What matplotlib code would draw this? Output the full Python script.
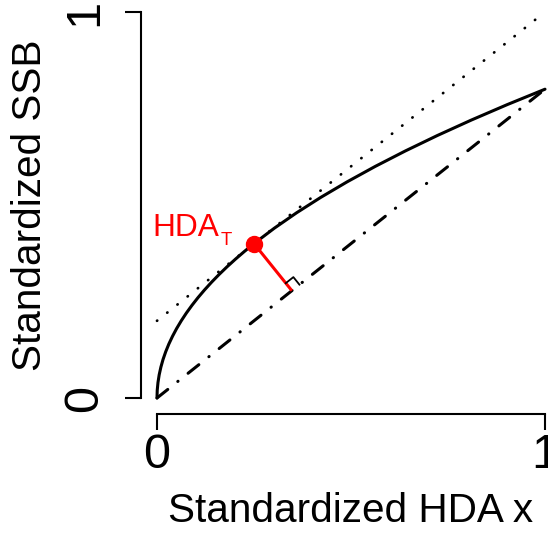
import numpy as np
import matplotlib
matplotlib.use("Agg")
import matplotlib.pyplot as plt

plt.rcParams['font.family'] = ['Liberation Sans', 'DejaVu Sans']

# Curve (standardized HDA x vs standardized SSB)
curve_x = [0.0, 0.0006, 0.0025, 0.0056, 0.01, 0.0156, 0.0225, 0.0306, 0.04, 0.0506,
           0.0625, 0.0756, 0.09, 0.1056, 0.1225, 0.1406, 0.16, 0.1806, 0.2025, 0.2256,
           0.25, 0.3025, 0.36, 0.4225, 0.49, 0.5625, 0.64, 0.7225, 0.81, 0.9025, 1.0]
curve_y = [0.0, 0.02, 0.04, 0.06, 0.08, 0.10, 0.12, 0.14, 0.16, 0.18,
           0.20, 0.22, 0.24, 0.26, 0.28, 0.30, 0.32, 0.34, 0.36, 0.38,
           0.40, 0.44, 0.48, 0.52, 0.56, 0.60, 0.64, 0.68, 0.72, 0.76, 0.80]

# Chord (dash-dot) from origin to curve end
chord_x = [0.0, 1.0]
chord_y = [0.0, 0.8]

# Tangent (dotted) parallel to chord
tangent_x = [0.0, 1.0]
tangent_y = [0.2, 1.0]

# HDA_T point
hda_x = 0.25
hda_y = 0.40

tick_vals = [0, 1]
tick_labels = ['0', '1']

fig = plt.figure(figsize=(5.48, 5.39), dpi=100)
ax = fig.add_axes([157/548, 1-398/539, 388/548, 386/539])
ax.set_xlim(0, 1)
ax.set_ylim(0, 1)

ax.plot(curve_x, curve_y, color='black', lw=2.2, solid_capstyle='round', clip_on=False)
ax.plot(chord_x, chord_y, color='black', lw=2.2, dash_capstyle='round',
        linestyle=(0, (4.5, 4.2, 0.1, 4.2)), clip_on=False)
ax.plot(tangent_x, tangent_y, color='black', lw=2.0, dash_capstyle='round',
        linestyle=(0, (0.1, 4.6)), clip_on=False)

# perpendicular from HDA_T point to chord
d = np.array([chord_x[1] - chord_x[0], chord_y[1] - chord_y[0]])
u = d / np.linalg.norm(d)
p = np.array([hda_x, hda_y])
t = np.dot(p - np.array([chord_x[0], chord_y[0]]), u)
foot = np.array([chord_x[0], chord_y[0]]) + t * u
ax.plot([p[0], foot[0]], [p[1], foot[1]], color='red', lw=2.2, solid_capstyle='butt')
n = (p - foot) / np.linalg.norm(p - foot)
s = 0.025
c1 = foot + s * u
c2 = foot + s * u + s * n
c3 = foot + s * n
ax.plot([c1[0], c2[0], c3[0]], [c1[1], c2[1], c3[1]], color='black', lw=1.3)
ax.plot([hda_x], [hda_y], 'o', color='red', ms=11.5, zorder=5)

ax.annotate('HDA', xy=(hda_x, hda_y), xytext=(-24.8, 5.5), textcoords='offset points',
            ha='right', va='baseline', color='red', fontsize=22.8)
ax.annotate('T', xy=(hda_x, hda_y), xytext=(-24.1, -1.0), textcoords='offset points',
            ha='left', va='baseline', color='red', fontsize=13.3)

for side in ['top', 'right']:
    ax.spines[side].set_visible(False)
for side in ['left', 'bottom']:
    ax.spines[side].set_position(('outward', 11.5))
    ax.spines[side].set_bounds(0, 1)
    ax.spines[side].set_linewidth(1.5)

ax.set_xticks(tick_vals)
ax.set_xticklabels(tick_labels)
ax.set_yticks(tick_vals)
ax.set_yticklabels(tick_labels)
ax.tick_params(axis='both', length=11.5, width=1.5, labelsize=35)
ax.tick_params(axis='x', pad=2.5)
ax.tick_params(axis='y', pad=13, labelrotation=90)
for lab in ax.get_yticklabels():
    lab.set_va('center')

ax.set_xlabel('Standardized HDA x', fontsize=29.2)
ax.xaxis.set_label_coords(0.5, -0.2435)
ax.set_ylabel('Standardized SSB', fontsize=29.2)
ax.yaxis.set_label_coords(-0.278, 0.5)

fig.savefig('out.png', dpi=100)
